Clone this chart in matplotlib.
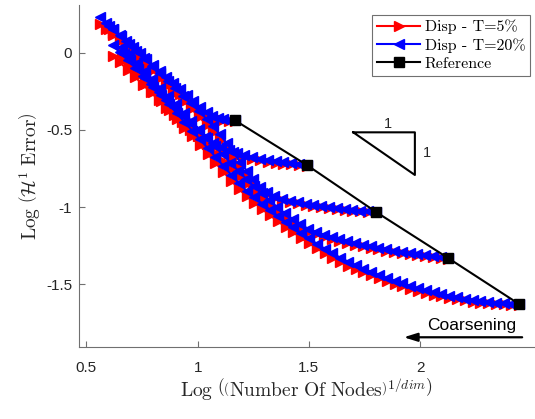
import matplotlib
matplotlib.use("Agg")
import matplotlib.pyplot as plt

plt.rcParams['mathtext.fontset'] = 'cm'

# ---------------- data ----------------
ref_x = [1.166, 1.49, 1.80, 2.127, 2.445]
ref_y = [-0.437, -0.727, -1.030, -1.331, -1.628]

c1_x = [1.166, 1.14, 1.115, 1.09, 1.065, 1.04, 1.01, 0.98, 0.95, 0.92, 0.89, 0.86,
        0.83, 0.80, 0.77, 0.74, 0.71, 0.68, 0.65, 0.62, 0.59, 0.56]
c1_blue = [-0.437, -0.434, -0.429, -0.421, -0.408, -0.386, -0.352, -0.314, -0.275,
           -0.236, -0.197, -0.158, -0.119, -0.080, -0.041, -0.002, 0.037, 0.076,
           0.115, 0.154, 0.192, 0.230]
c1_red = [-0.440, -0.440, -0.437, -0.431, -0.421, -0.404, -0.376, -0.343, -0.306,
          -0.268, -0.230, -0.192, -0.154, -0.116, -0.078, -0.040, -0.002, 0.036,
          0.074, 0.112, 0.150, 0.186]

c2_x = [1.49, 1.455, 1.42, 1.385, 1.35, 1.315, 1.28, 1.245, 1.21, 1.175, 1.14, 1.105,
        1.07, 1.035, 1.0, 0.965, 0.93, 0.895, 0.86, 0.825, 0.79, 0.755, 0.72, 0.685,
        0.65, 0.62]
c2_blue = [-0.727, -0.722, -0.716, -0.710, -0.703, -0.695, -0.686, -0.676, -0.664,
           -0.650, -0.633, -0.611, -0.583, -0.548, -0.503, -0.454, -0.404, -0.354,
           -0.304, -0.253, -0.202, -0.151, -0.100, -0.049, 0.002, 0.046]
c2_red = [-0.731, -0.728, -0.723, -0.718, -0.712, -0.705, -0.697, -0.688, -0.678,
          -0.666, -0.652, -0.634, -0.611, -0.581, -0.543, -0.499, -0.452, -0.404,
          -0.356, -0.307, -0.258, -0.209, -0.160, -0.111, -0.062, -0.020]

c3_x = [1.80, 1.765, 1.73, 1.695, 1.66, 1.625, 1.59, 1.555, 1.52, 1.485, 1.45, 1.415,
        1.38, 1.345, 1.31, 1.28, 1.25, 1.22, 1.19, 1.16, 1.13, 1.10, 1.07, 1.04,
        1.005, 0.97, 0.935, 0.90, 0.865, 0.83, 0.795, 0.76, 0.725, 0.69, 0.655,
        0.62, 0.60]
c3_blue = [-1.030, -1.026, -1.022, -1.017, -1.012, -1.006, -1.000, -0.993, -0.986,
           -0.978, -0.969, -0.959, -0.946, -0.928, -0.902, -0.868, -0.820, -0.764,
           -0.705, -0.645, -0.586, -0.530, -0.478, -0.430, -0.379, -0.329, -0.280,
           -0.231, -0.182, -0.134, -0.086, -0.038, 0.010, 0.058, 0.106, 0.150, 0.175]
c3_red = [-1.034, -1.031, -1.027, -1.023, -1.018, -1.013, -1.007, -1.000, -0.993,
          -0.985, -0.976, -0.966, -0.954, -0.938, -0.915, -0.885, -0.843, -0.792,
          -0.737, -0.680, -0.623, -0.568, -0.516, -0.467, -0.414, -0.362, -0.311,
          -0.261, -0.211, -0.162, -0.113, -0.064, -0.015, 0.034, 0.083, 0.128, 0.153]

c4_x = [2.127, 2.092, 2.057, 2.022, 1.987, 1.952, 1.917, 1.882, 1.847, 1.812, 1.777,
        1.742, 1.707, 1.672, 1.637, 1.602, 1.567, 1.532, 1.497, 1.462, 1.427, 1.392,
        1.357, 1.322, 1.287, 1.252, 1.217, 1.182, 1.147, 1.112, 1.077, 1.042, 1.007,
        0.972, 0.937, 0.902, 0.867, 0.832, 0.797, 0.762, 0.727, 0.692, 0.66]
c4_blue = [-1.331, -1.325, -1.319, -1.312, -1.305, -1.298, -1.290, -1.282, -1.273,
           -1.264, -1.254, -1.243, -1.232, -1.220, -1.207, -1.193, -1.178, -1.162,
           -1.140, -1.112, -1.078, -1.040, -0.999, -0.956, -0.911, -0.864, -0.815,
           -0.764, -0.712, -0.659, -0.605, -0.551, -0.497, -0.443, -0.389, -0.335,
           -0.281, -0.227, -0.173, -0.119, -0.065, -0.011, 0.038]
c4_red = [-1.335, -1.330, -1.324, -1.318, -1.311, -1.304, -1.297, -1.289, -1.281,
          -1.272, -1.263, -1.253, -1.242, -1.231, -1.219, -1.206, -1.192, -1.177,
          -1.158, -1.133, -1.102, -1.067, -1.028, -0.987, -0.944, -0.899, -0.852,
          -0.803, -0.752, -0.700, -0.647, -0.593, -0.539, -0.485, -0.431, -0.377,
          -0.323, -0.269, -0.215, -0.161, -0.107, -0.053, -0.005]

c5_x = [2.445, 2.41, 2.375, 2.34, 2.305, 2.27, 2.235, 2.20, 2.165, 2.13, 2.095, 2.06,
        2.025, 1.99, 1.955, 1.92, 1.885, 1.85, 1.815, 1.78, 1.745, 1.71, 1.675, 1.64,
        1.605, 1.57, 1.535, 1.50, 1.465, 1.43, 1.395, 1.36, 1.325, 1.29, 1.255, 1.22,
        1.185, 1.15, 1.115, 1.08, 1.045, 1.01, 0.975, 0.94, 0.905, 0.87, 0.835, 0.80,
        0.765, 0.73, 0.695, 0.67]
c5_blue = [-1.628, -1.626, -1.623, -1.619, -1.614, -1.608, -1.601, -1.593, -1.584,
           -1.574, -1.563, -1.551, -1.538, -1.524, -1.509, -1.493, -1.476, -1.458,
           -1.439, -1.419, -1.398, -1.376, -1.352, -1.326, -1.298, -1.268, -1.236,
           -1.202, -1.167, -1.131, -1.094, -1.056, -1.017, -0.977, -0.936, -0.894,
           -0.845, -0.790, -0.733, -0.675, -0.618, -0.562, -0.505, -0.448, -0.391,
           -0.334, -0.277, -0.220, -0.163, -0.106, -0.050, -0.010]
c5_red = [-1.632, -1.631, -1.629, -1.626, -1.622, -1.617, -1.611, -1.604, -1.596,
          -1.587, -1.577, -1.566, -1.554, -1.541, -1.527, -1.512, -1.496, -1.479,
          -1.461, -1.442, -1.422, -1.401, -1.378, -1.353, -1.326, -1.297, -1.266,
          -1.233, -1.199, -1.164, -1.128, -1.091, -1.053, -1.013, -0.972, -0.930,
          -0.882, -0.828, -0.771, -0.713, -0.656, -0.600, -0.543, -0.486, -0.429,
          -0.372, -0.315, -0.258, -0.201, -0.144, -0.088, -0.048]

curves_x = [c1_x, c2_x, c3_x, c4_x, c5_x]
curves_red = [c1_red, c2_red, c3_red, c4_red, c5_red]
curves_blue = [c1_blue, c2_blue, c3_blue, c4_blue, c5_blue]

labels = ['Disp - T=5%', 'Disp - T=20%', 'Reference']
xticks = [0.5, 1, 1.5, 2]
xticklabels = ['0.5', '1', '1.5', '2']
yticks = [0, -0.5, -1, -1.5]
yticklabels = ['0', '-0.5', '-1', '-1.5']

# slope triangle vertices
tri_x = [1.699, 1.976, 1.976, 1.699]
tri_y = [-0.516, -0.516, -0.792, -0.516]

# ---------------- figure ----------------
fig = plt.figure(figsize=(5.35, 4.19), dpi=100)
ax = fig.add_axes([0.1477, 0.1718, 0.852, 0.816])

ms = 7.5
lw = 1.5
for i, (xs, ys) in enumerate(zip(curves_x, curves_red)):
    ax.plot(xs, ys, color='red', marker='>', markersize=ms, linewidth=lw,
            label=labels[0] if i == 0 else None, zorder=2)
for i, (xs, ys) in enumerate(zip(curves_x, curves_blue)):
    ax.plot(xs, ys, color='blue', marker='<', markersize=ms, linewidth=lw,
            label=labels[1] if i == 0 else None, zorder=3)
ax.plot(ref_x, ref_y, color='black', marker='s', markersize=6.5, linewidth=1.5,
        label=labels[2], zorder=4)

# slope triangle
ax.plot(tri_x, tri_y, color='black', linewidth=1.5, zorder=1)
ax.text(1.856, -0.463, '1', fontsize=10.5, family='Liberation Sans',
        ha='center', va='center', color='#262626')
ax.text(2.031, -0.652, '1', fontsize=10.5, family='Liberation Sans',
        ha='center', va='center', color='#262626')

# coarsening annotation
ax.text(2.232, -1.769, 'Coarsening', fontsize=12.5, family='Liberation Sans',
        ha='center', va='center', color='black')
ax.annotate('', xy=(1.926, -1.842), xytext=(2.458, -1.842),
            arrowprops=dict(arrowstyle='-|>,head_length=0.8,head_width=0.25',
                            color='black', lw=1.6, shrinkA=0, shrinkB=0))

ax.set_xlim(0.467, 2.515)
ax.set_ylim(-1.905, 0.307)

ax.set_xticks(xticks)
ax.set_xticklabels(xticklabels)
ax.set_yticks(yticks)
ax.set_yticklabels(yticklabels)
for lab in ax.get_xticklabels() + ax.get_yticklabels():
    lab.set_family('Liberation Sans')
ax.tick_params(axis='x', direction='in', length=4, width=0.8, colors='#707070',
               labelcolor='#262626', labelsize=11, pad=10)
ax.tick_params(axis='y', direction='in', length=4, width=0.8, colors='#707070',
               labelcolor='#262626', labelsize=11, pad=5)

for s in ['top', 'right']:
    ax.spines[s].set_visible(False)
for s in ['left', 'bottom']:
    ax.spines[s].set_color('#707070')
    ax.spines[s].set_linewidth(0.8)

ax.set_xlabel(r'$\mathrm{Log}\ \left(\left(\mathrm{Number\ Of\ Nodes}\right)^{1/dim}\right)$',
              fontsize=14, color='#262626', labelpad=1)
ax.set_ylabel(r'$\mathrm{Log}\ \left(\mathcal{H}^1\ \mathrm{Error}\right)$',
              fontsize=14, color='#262626', labelpad=2)

leg = ax.legend(loc='upper right', bbox_to_anchor=(0.99, 0.972), borderaxespad=0,
                prop={'family': 'cmr10', 'size': 11.5}, handlelength=2.7,
                labelspacing=0.25, handletextpad=0.3, borderpad=0.3,
                fancybox=False, framealpha=1, edgecolor='#707070')
leg.get_frame().set_linewidth(0.8)

fig.savefig('out.png', dpi=100)
